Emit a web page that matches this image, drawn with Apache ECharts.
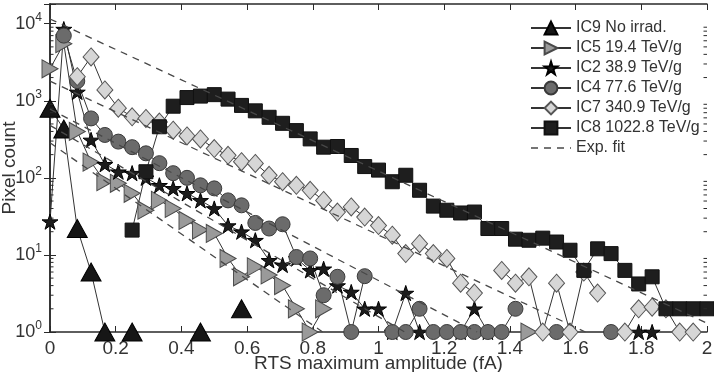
<!DOCTYPE html>
<html><head><meta charset="utf-8">
<script src="https://cdn.jsdelivr.net/npm/echarts@6/dist/echarts.min.js"></script>
<style>html,body{margin:0;padding:0;background:#fff}#c{width:714px;height:372px}</style>
</head><body><div id="c"></div>
<script>
// bin centres (fA)
const xBins = [0,0.042,0.083,0.125,0.167,0.208,0.25,0.292,0.333,0.375,0.417,0.458,0.5,0.542,0.583,0.625,0.667,0.708,0.75,0.792,0.833,0.875,0.917,0.958,1,1.042,1.083,1.125,1.167,1.208,1.25,1.292,1.333,1.375,1.417,1.458,1.5,1.542,1.583,1.625,1.667,1.708,1.75,1.792,1.833,1.875,1.917,1.958,2];
const ic9 = [800,430,22,6,1,null,1,null,null,null,null,1,null,null,2,null,null,null,null,null,null,null,null,null,null,null,null,null,null,null,null,null,null,null,null,null,null,null,null,null,null,null,null,null,null,null,null,null,null];
const ic5 = [2600,5500,400,160,89,85,63,38,51,40,28,21,19,9,5.2,7,5.5,4,2,1,2,null,null,null,null,null,null,null,null,null,null,null,null,null,null,1,null,null,null,null,null,null,null,null,null,null,null,null,null];
const ic2 = [27,8500,1300,310,150,120,115,100,80,73,63,51,40,24,20,15.5,8.5,7.4,9,6.3,6.6,4,3.3,2,2,1,3.2,1,null,null,1,2,1,null,null,null,null,null,null,null,null,null,null,1,1,null,null,null,null];
const ic4 = [null,7000,1800,590,360,295,250,208,155,115,100,80,73,51,44,26,22,25,9.4,9,3,5.2,1,5.3,null,1,1,2,1,1,1,1,1,1,2,null,null,1,null,null,null,1,null,null,null,null,null,null,null];
const ic7 = [null,null,2050,3700,1380,800,620,590,530,415,350,320,240,196,162,154,108,89,80,69,51,36,42,31,24,18,10.4,14,10.4,9,4.3,3.2,null,6.3,4.3,5.2,1,4.3,1,6,3.2,null,1,2,2.1,2,1,1,null];
const ic8 = [null,null,null,null,null,null,21,120,460,850,1100,1150,1200,1050,870,740,610,510,410,320,250,255,195,140,126,89,108,69,43,38,35,36,22,22,16,15.5,16.5,14.7,11.5,6.3,12,10.4,6.3,4.2,5.2,2,2,2,2];
// exponential fit lines: [x, count] end points
const fitIC8 = [[0,11500],[2,1.3]];
const fitIC7 = [[0,1800],[1.63,1]];
const fitIC4 = [[0,780],[1.30,1]];
const fitIC2 = [[0,480],[1.08,1]];
const fitIC5 = [[0,285],[0.83,1]];
// tick labels
const xTicks = [0,0.2,0.4,0.6,0.8,1,1.2,1.4,1.6,1.8,2];
const yDecades = [1,10,100,1000,10000];
const minorTickVals = [2,3,4,5,6,7,8,9,20,30,40,50,60,70,80,90,200,300,400,500,600,700,800,900,2000,3000,4000,5000,6000,7000,8000,9000];

const FONT = "'Liberation Sans', Arial, Helvetica, sans-serif";
const STAR = 'path://M50,0L61.23,34.55L97.55,34.55L68.17,55.9L79.39,90.45L50,69.1L20.61,90.45L31.83,55.9L2.45,34.55L38.77,34.55Z';
const DASH = {color:'#484848', width:1.3, type:[7,6]};
const pair = arr => xBins.map((x,i)=>[x, arr[i] == null ? '-' : arr[i]]);

function dataSeries(name, arr, symbol, size, fill, edge, rot){
  return {
    name, type:'line', data: pair(arr), symbol, symbolSize: size, symbolRotate: rot||0,
    symbolKeepAspect: true, showAllSymbol: true, connectNulls:false, clip:false,
    lineStyle:{color:'#333', width:1}, itemStyle:{color:fill, borderColor:edge, borderWidth:1},
    emphasis:{disabled:true}, animation:false, z:2
  };
}
function fitSeries(d){
  return {name:'Exp. fit', type:'line', data:d, symbol:'none', animation:false,
    lineStyle:DASH, itemStyle:{color:'#444'}, z:5, emphasis:{disabled:true}};
}

const chart = echarts.init(document.getElementById('c'), null, {renderer:'canvas'});
const axisLine = {show:true, lineStyle:{color:'#2a2a2a', width:1.5}};
chart.setOption({
  animation:false,
  textStyle:{fontFamily:FONT},
  grid:{left:50, right:7, top:4, bottom:40, containLabel:false, outerBoundsMode:'none'},
  legend:{
    orient:'vertical', left:525, top:15, itemWidth:40, itemHeight:16, itemGap:4,
    textStyle:{fontFamily:FONT, fontSize:16, color:'#333'},
    data:['IC9 No irrad.','IC5 19.4 TeV/g','IC2 38.9 TeV/g','IC4 77.6 TeV/g','IC7 340.9 TeV/g','IC8 1022.8 TeV/g',
      {name:'Exp. fit', itemStyle:{color:'rgba(0,0,0,0)', borderColor:'rgba(0,0,0,0)', borderWidth:0}, lineStyle:DASH}]
  },
  xAxis:[{
    type:'value', min:0, max:2, interval:0.2, position:'bottom',
    name:'RTS maximum amplitude (fA)', nameLocation:'middle', nameGap:22, nameMoveOverlap:false,
    nameTextStyle:{fontFamily:FONT, fontSize:19, color:'#333'},
    axisLine, axisTick:{inside:true, length:6, lineStyle:{color:'#2a2a2a'}},
    axisLabel:{fontFamily:FONT, fontSize:19, color:'#333', margin:7,
      formatter: v => (xTicks.some(t=>Math.abs(t-v)<1e-9) ? String(+v.toFixed(1)) : '')},
    splitLine:{show:false}
  },{
    type:'value', min:0, max:2, interval:0.2, position:'top',
    axisLine, axisTick:{inside:true, length:6, lineStyle:{color:'#2a2a2a'}},
    axisLabel:{show:false}, splitLine:{show:false}
  }],
  yAxis:[{
    type:'log', logBase:10, min:1, max:18000, position:'left',
    name:'Pixel count', nameLocation:'middle', nameGap:31, nameMoveOverlap:false,
    nameTextStyle:{fontFamily:FONT, fontSize:19, color:'#333'},
    axisLine, axisTick:{inside:true, length:6, lineStyle:{color:'#2a2a2a'}},
    axisLabel:{margin:8, fontFamily:FONT, color:'#333',
      formatter: v => {
        const l = Math.log10(v), n = Math.round(l);
        if (Math.abs(l-n) > 1e-6 || !yDecades.includes(Math.pow(10,n))) return '';
        return '{b|10}{s|' + n + '}';
      },
      rich:{ b:{fontSize:18, fontFamily:FONT, color:'#333', lineHeight:24, verticalAlign:'middle'},
             s:{fontSize:12, fontFamily:FONT, color:'#333', lineHeight:12, verticalAlign:'top'} }
    },
    splitLine:{show:false}
  },{
    type:'log', logBase:10, min:1, max:18000, position:'right',
    axisLine, axisTick:{inside:true, length:6, lineStyle:{color:'#2a2a2a'}},
    axisLabel:{show:false}, splitLine:{show:false}
  }],
  series:[
    dataSeries('IC9 No irrad.', ic9, 'triangle', [20,18], '#161616', '#000'),
    dataSeries('IC5 19.4 TeV/g', ic5, 'triangle', [18,16], '#9a9a9a', '#4a4a4a', -90),
    dataSeries('IC2 38.9 TeV/g', ic2, STAR, 16, '#1c1c1c', '#000'),
    dataSeries('IC4 77.6 TeV/g', ic4, 'circle', 15, '#6b6b6b', '#3a3a3a'),
    dataSeries('IC7 340.9 TeV/g', ic7, 'diamond', [16,18], '#d6d6d6', '#555'),
    dataSeries('IC8 1022.8 TeV/g', ic8, 'rect', 14, '#1e1e1e', '#111'),
    fitSeries(fitIC8), fitSeries(fitIC7), fitSeries(fitIC4), fitSeries(fitIC2), fitSeries(fitIC5),
    {
      type:'custom', name:'minor', silent:true, animation:false, z:3,
      data: minorTickVals.map(v=>[0,v]),
      renderItem:(params, api) => {
        const v = api.value(1);
        const pl = api.coord([0, v]);
        const pr = api.coord([2, v]);
        return {type:'group', children:[
          {type:'line', shape:{x1:pl[0], y1:pl[1], x2:pl[0]+3.5, y2:pl[1]}, style:{stroke:'#2a2a2a', lineWidth:1}},
          {type:'line', shape:{x1:pr[0], y1:pr[1], x2:pr[0]-3.5, y2:pr[1]}, style:{stroke:'#2a2a2a', lineWidth:1}}
        ]};
      }
    }
  ]
});
</script></body></html>
